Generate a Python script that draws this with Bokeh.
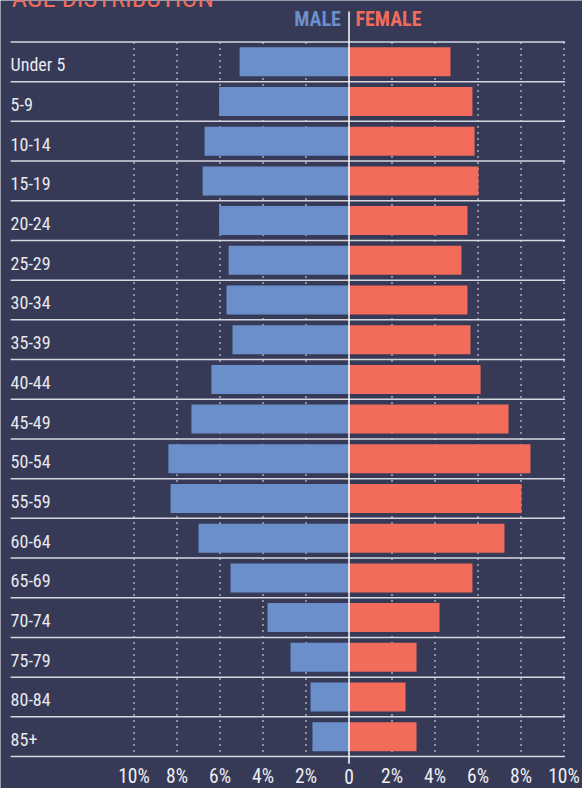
from bokeh.plotting import figure
from bokeh.models import Range1d, ColumnDataSource
from bokeh.core.properties import value
from bokeh.embed import file_html
from bokeh.resources import INLINE

# ---------------- data ----------------
ages = ["Under 5", "5-9", "10-14", "15-19", "20-24", "25-29", "30-34", "35-39",
        "40-44", "45-49", "50-54", "55-59", "60-64", "65-69", "70-74", "75-79",
        "80-84", "85+"]
male = [5.09, 6.04, 6.72, 6.81, 6.04, 5.60, 5.70, 5.42, 6.40, 7.33, 8.40, 8.30,
        7.00, 5.51, 3.79, 2.72, 1.79, 1.70]
female = [4.72, 5.74, 5.84, 6.02, 5.51, 5.23, 5.51, 5.65, 6.12, 7.42, 8.44, 8.02,
          7.23, 5.74, 4.21, 3.14, 2.63, 3.14]
ticks = [-10, -8, -6, -4, -2, 0, 2, 4, 6, 8, 10]
tick_labels = ["10%", "8%", "6%", "4%", "2%", "0", "2%", "4%", "6%", "8%", "10%"]
title_text = "AGE DISTRIBUTION"
series_names = ["MALE", "FEMALE"]

# ---------------- style ----------------
BG = "#363a57"
BLUE = "#6b8fcb"
RED = "#f26b5b"
TXT = "#e9e9ef"
FONT = value("Roboto Condensed, DejaVu Sans Condensed, Roboto, sans-serif")

n = len(ages)
idx = list(range(n))

p = figure(width=582, height=788, output_backend="svg", toolbar_location=None,
           x_range=Range1d(-16.21, 10.86), y_range=Range1d(18.305, -1.544),
           min_border=0, min_border_left=0, min_border_right=0,
           min_border_top=0, min_border_bottom=0)
p.background_fill_color = BG
p.border_fill_color = BG
p.outline_line_color = None
p.axis.visible = False
p.xgrid.visible = False
p.ygrid.visible = False

# dotted vertical gridlines
grid_x = [t for t in ticks if t != 0]
p.segment(x0=grid_x, x1=grid_x, y0=[-0.5] * len(grid_x), y1=[n - 0.5] * len(grid_x),
          line_color="#cfd1dc", line_alpha=0.75, line_width=1.5, line_dash="2 4")

src = ColumnDataSource(dict(y=idx, ml=[-m for m in male], fr=female, age=ages))
p.hbar(y="y", left="ml", right=0, height=0.73, source=src, fill_color=BLUE, line_color=None)
p.hbar(y="y", left=0, right="fr", height=0.73, source=src, fill_color=RED, line_color=None)

# row separators
rows_y = [k - 0.5 for k in range(n + 1)]
p.segment(x0=[-15.74] * len(rows_y), x1=[10.05] * len(rows_y), y0=rows_y, y1=rows_y,
          line_color="#d6d8e0", line_width=1.5)

# zero line
p.segment(x0=[0], x1=[0], y0=[-1.267], y1=[n - 0.32], line_color="#ffffff", line_width=1.5)

# category labels
p.text(x=-15.74, y="y", text="age", source=src, text_font=FONT, text_font_size="18px",
       text_color=TXT, text_align="left", text_baseline="middle", y_offset=3)

# tick labels
p.text(x=ticks, y=[18.0] * len(ticks), text=tick_labels, text_font=FONT,
       text_font_size="19.5px", text_color="#eeeef3", text_align="center",
       text_baseline="middle")

# header
p.text(x=[-0.38], y=[-1.07], text=[series_names[0]], text_font=FONT, text_font_size="20px",
       text_font_style="bold", text_color=BLUE, text_align="right", text_baseline="middle")
p.text(x=[0.3], y=[-1.07], text=[series_names[1]], text_font=FONT, text_font_size="20px",
       text_font_style="bold", text_color=RED, text_align="left", text_baseline="middle")

# title (partly cut off at the top)
p.text(x=[-15.69], y=[-1.5], text=[title_text], text_font=FONT, text_font_size="26.5px",
       text_color=RED, text_align="left", text_baseline="middle", y_offset=-4.5)

open("out.html", "w").write(file_html(p, INLINE))
